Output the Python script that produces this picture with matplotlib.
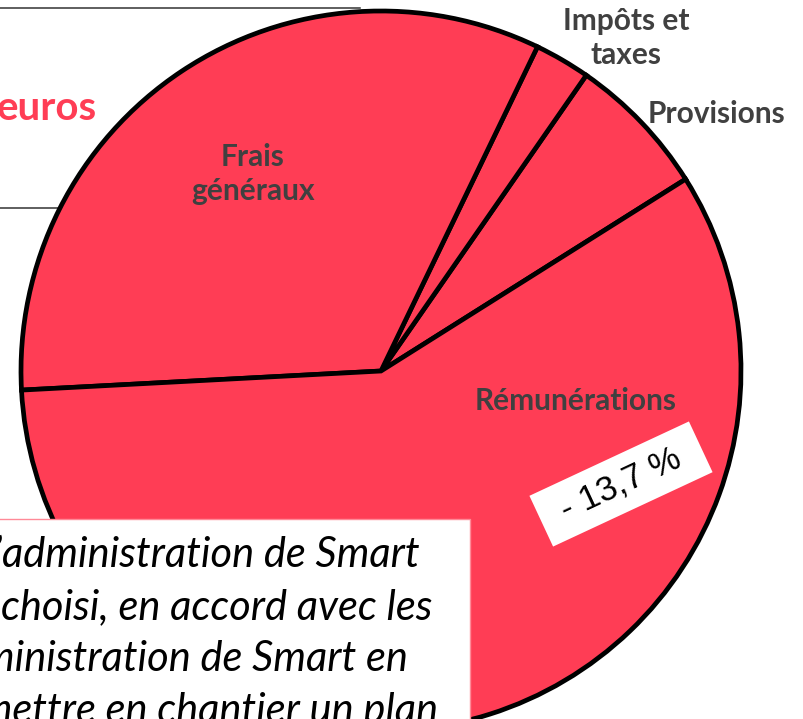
import matplotlib
matplotlib.use("Agg")
import matplotlib.pyplot as plt
from matplotlib.patches import Rectangle

# Données du camembert (parts en %)
categories = ["Provisions", "Impôts et\ntaxes", "Frais\ngénéraux", "Rémunérations"]
parts = [6.4, 2.5, 33.0, 58.1]
variation_label = "- 13,7 %"
texte_lignes = [
    "l’administration de Smart",
    "a choisi, en accord avec les",
    "d’administration de Smart en",
    "de mettre en chantier un plan",
]

ROUGE = "#FF3D55"
GRIS = "#404040"
W, H = 804, 719

fig = plt.figure(figsize=(W / 100, H / 100), dpi=100)
ax = fig.add_axes([0, 0, 1, 1])

# lignes du cadre du titre (derrière le camembert)
ax.plot([0, 360], [H - 8, H - 8], color="#333333", lw=1.1, zorder=0)
ax.plot([0, 60], [H - 208, H - 208], color="#333333", lw=1.1, zorder=0)
ax.text(97, H - 108, "euros", color=ROUGE, fontsize=29, fontweight="bold",
        family="Lato", ha="right", va="center")

# le camembert
ax.pie(parts, startangle=32.2, counterclock=True, center=(381, H - 371), radius=360,
       colors=[ROUGE] * len(parts),
       wedgeprops=dict(edgecolor="black", linewidth=3.4, joinstyle="miter"))

# étiquettes
etiquettes = {
    "Provisions": (717, 114),
    "Impôts et\ntaxes": (626, 38),
    "Frais\ngénéraux": (253, 174),
    "Rémunérations": (576, 401),
}
for cat in categories:
    x, y = etiquettes[cat]
    ax.text(x, H - y, cat, color=GRIS, fontsize=21.5, fontweight="bold", family="Lato",
            ha="center", va="center", linespacing=1.3, zorder=4)

# encadré de la variation
boite = Rectangle((621 - 88, H - 484 - 28), 176, 56, angle=25, rotation_point="center",
                  facecolor="white", edgecolor="none", zorder=4)
ax.add_patch(boite)
ax.text(621, H - 484, variation_label, rotation=25, rotation_mode="anchor",
        fontsize=25, family="Liberation Sans", ha="center", va="center", zorder=5)

# encadré de texte en bas à gauche
ax.add_patch(Rectangle((-5, -10), 475, H - 519 + 10, facecolor="white",
                       edgecolor="#FF8A98", lw=1, zorder=6))
fins = [420, 432, 408, 438]
ys = [555, 607, 659, 711]
for ligne, xe, y in zip(texte_lignes, fins, ys):
    ax.text(xe, H - y, ligne, fontsize=30, style="italic", family="Lato",
            ha="right", va="center", color="black", zorder=7)

ax.set_xlim(0, W)
ax.set_ylim(0, H)
ax.set_aspect("auto")
ax.axis("off")

fig.savefig("out.png", dpi=100)
